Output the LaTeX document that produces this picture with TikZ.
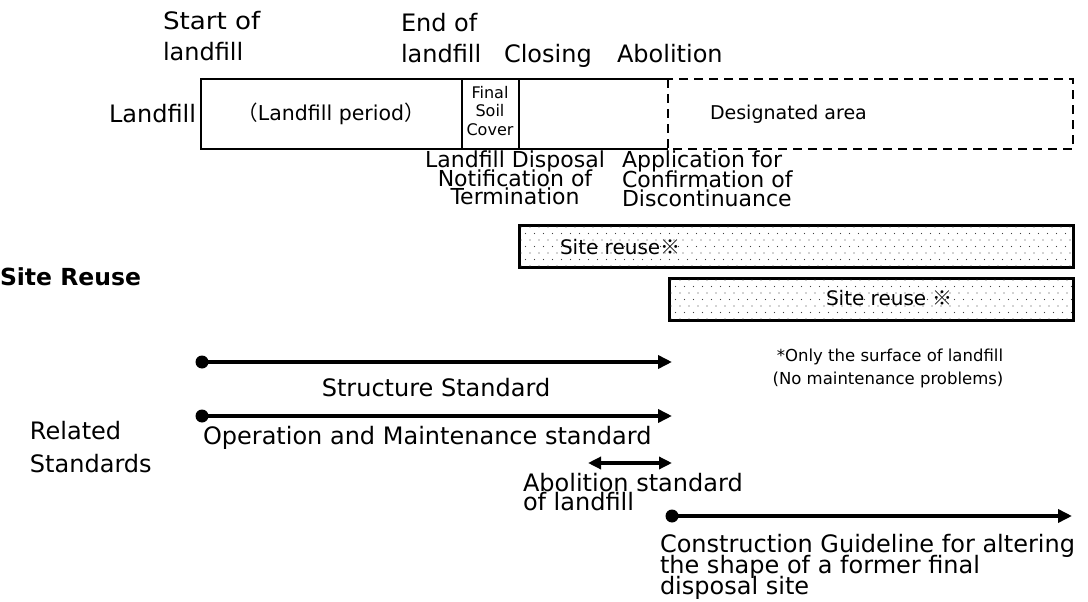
\documentclass[tikz,border=0pt]{standalone}
\usepackage{fontspec}
\setmainfont{DejaVu Sans}
\newfontfamily\cjk{Noto Sans CJK JP}
\usetikzlibrary{arrows.meta}

% size and fixed line pitch (lines may sit tightly on each other)
\newcommand\fsz[2]{\fontsize{#1}{#2}\selectfont\lineskiplimit=-100pt\relax}

\begin{document}
\begin{tikzpicture}[x=1pt,y=-1pt,
  lbl/.style={inner sep=0pt, outer sep=0pt},
  frame/.style={line width=2pt},
  dashframe/.style={line width=2.5pt, dash pattern=on 9pt off 6pt},
  reusebox/.style={draw, line width=2.5pt, inner sep=0pt, anchor=north west},
  span/.style={line width=4.5pt, -{Triangle[length=14pt,width=13pt]}},
  twoway/.style={line width=4pt, {Triangle[length=13pt,width=12pt]}-{Triangle[length=13pt,width=12pt]}},
  startdot/.style={circle, fill, inner sep=0pt, minimum size=13pt},
  grain/.style={fill=black!75},
  big/.style={lbl, font=\fsz{24}{32}},
]
\useasboundingbox (0,0) rectangle (1088,602);

% ---- time points above the landfill bar
\node[big, anchor=base west] (start1) at (163,30) {\scalebox{1.09}[1]{Start of}};
\node[big, anchor=base west] (start2) at (163,61) {landfill};
\node[big, anchor=base west] (end1) at (401,32) {End of};
\node[big, anchor=base west] (end2) at (401,63) {landfill};
\node[big, anchor=base west] (closing) at (504,63) {Closing};
\node[big, anchor=base west] (abolition) at (617,63) {Abolition};

% ---- landfill bar
\node[big, anchor=east] (rowland) at (196,114) {Landfill};
\draw[frame] (668,79) -- (201,79) -- (201,149) -- (668,149);
\draw[frame] (462,79) -- (462,149);
\draw[frame] (519,79) -- (519,149);
\draw[dashframe] (668,79) rectangle (1073,149);
\node[lbl, font=\fsz{20.5}{24}] (period) at (331,114) {{\cjk （}Landfill period{\cjk ）}};
\node[lbl, font=\fsz{16}{18.5}, align=center, anchor=north] (cover) at (490,86)
  {Final\\Soil\\Cover};
\node[lbl, font=\fsz{19}{22}, anchor=west] (desig) at (710,114) {Designated area};

% ---- procedures under the bar
\node[lbl, font=\fsz{22}{18.5}, align=center, anchor=north] (notif) at (515,151)
  {Landfill Disposal\\Notification of\\Termination};
\node[lbl, font=\fsz{22}{19.5}, align=left, anchor=north west] (appl) at (622,151)
  {Application for\\Confirmation of\\Discontinuance};

% ---- site reuse: two dotted bands
\node[lbl, font=\bfseries\fsz{23.5}{26}, anchor=west] (reuse) at (0,277) {Site Reuse};
\node[reusebox, minimum width=554pt, minimum height=42pt] (reuseA) at (518,224) {};
\node[reusebox, minimum width=404pt, minimum height=42pt] (reuseB) at (668,277) {};
\foreach \band in {reuseA,reuseB}{
  \begin{scope}
    \clip ([xshift=2pt,yshift=-2pt]\band.north west) rectangle ([xshift=-2pt,yshift=2pt]\band.south east);
    \foreach \r in {0,...,6}{
      \pgfmathsetmacro\shift{mod(\r,2)*4.5}
      \foreach \c in {0,...,62}{
        \fill[grain] ([xshift=\c*9pt+\shift pt+3pt, yshift=-\r*6.5pt-3pt]\band.north west) circle (0.7pt);
      }
    }
  \end{scope}
}
\node[lbl, font=\fsz{20}{24}, anchor=west] (reuseAt) at (560,247) {Site reuse{\cjk ※}};
\node[lbl, font=\fsz{20}{24}, anchor=west] (reuseBt) at (826,298) {Site reuse {\cjk ※}};
\node[lbl, font=\fsz{16.5}{20}] (note1) at (890,357) {*Only the surface of landfill};
\node[lbl, font=\fsz{16.5}{20}] (note2) at (888,380) {(No maintenance problems)};

% ---- related standards
\node[lbl, font=\fsz{24}{33}, align=left, anchor=north west] (related) at (30,421) {Related\\Standards};

\node[startdot] (s1) at (202,362) {};
\coordinate (e1) at (672,362);
\draw[span] (s1.center) -- (e1);
\node[big] (structure) at (436,388) {Structure Standard};

\node[startdot] (s2) at (202,416) {};
\coordinate (e2) at (672,416);
\draw[span] (s2.center) -- (e2);
\node[big, anchor=west] (operation) at (203,438) {Operation and Maintenance standard};

\coordinate (a1) at (588,463);
\coordinate (a2) at (672,463);
\draw[twoway] (a1) -- (a2);
\node[lbl, font=\fsz{24}{19}, align=left, anchor=north west] (abol) at (523,473)
  {Abolition standard\\of landfill};

\node[startdot] (s3) at (672,516) {};
\coordinate (e3) at (1072,516);
\draw[span] (s3.center) -- (e3);
\node[lbl, font=\fsz{24}{21}, align=left, anchor=north west] (guide) at (660,534)
  {Construction Guideline for altering\\the shape of a former final\\disposal site};
\end{tikzpicture}
\end{document}
